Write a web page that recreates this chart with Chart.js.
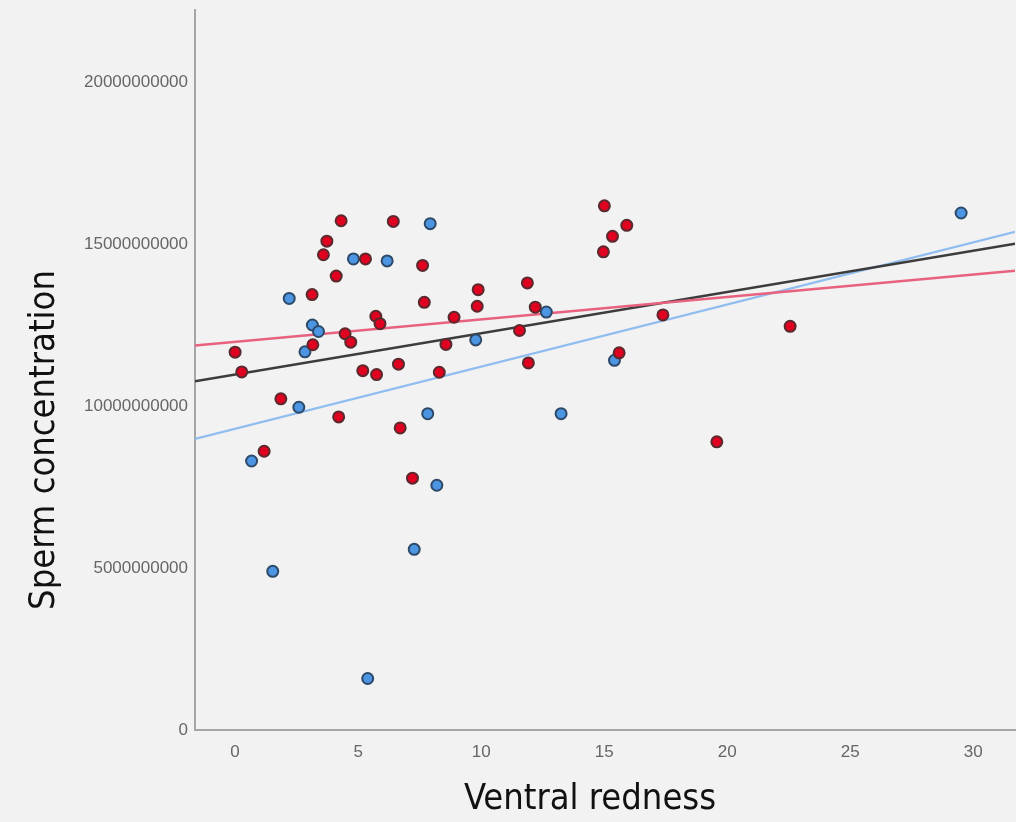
<!DOCTYPE html>
<html>
<head>
<meta charset="utf-8">
<script src="https://cdn.jsdelivr.net/npm/chart.js@4"></script>
<style>
  html, body { margin: 0; padding: 0; background: #f2f2f2; }
  #wrap { width: 1016px; height: 822px; }
</style>
</head>
<body>
<div id="wrap"><canvas id="chart" width="1016" height="822"></canvas></div>
<script>
// Red group (x = ventral redness, y = sperm concentration)
const redX = [0.0, 0.27, 1.18, 1.86, 3.13, 3.16, 3.59, 3.73, 4.31, 4.11, 4.47, 4.70, 4.21, 5.19,
  5.30, 5.72, 5.89, 5.75, 6.43, 6.64, 6.71, 7.21, 7.62, 7.69, 8.30, 8.57, 8.90, 9.84, 9.88,
  11.56, 11.88, 11.92, 12.20, 14.97, 15.01, 15.34, 15.92, 15.61, 17.39, 19.58, 22.56];
const redY = [1.167e10, 1.106e10, 8.61e9, 1.023e10, 1.345e10, 1.190e10, 1.468e10, 1.510e10,
  1.573e10, 1.402e10, 1.224e10, 1.198e10, 9.67e9, 1.110e10, 1.455e10, 1.278e10, 1.255e10,
  1.098e10, 1.571e10, 1.130e10, 9.33e9, 7.78e9, 1.435e10, 1.321e10, 1.105e10, 1.191e10,
  1.275e10, 1.309e10, 1.360e10, 1.234e10, 1.381e10, 1.134e10, 1.306e10, 1.477e10, 1.619e10,
  1.525e10, 1.559e10, 1.165e10, 1.282e10, 8.90e9, 1.247e10];

// Blue group
const blueX = [0.67, 1.53, 2.59, 2.20, 2.84, 3.14, 3.39, 4.81, 5.39, 6.18, 7.28, 7.93, 7.83,
  8.20, 9.78, 12.65, 13.25, 15.42, 29.51];
const blueY = [8.31e9, 4.90e9, 9.97e9, 1.333e10, 1.168e10, 1.251e10, 1.231e10, 1.455e10,
  1.59e9, 1.449e10, 5.58e9, 1.564e10, 9.77e9, 7.56e9, 1.205e10, 1.291e10, 9.77e9, 1.142e10,
  1.597e10];

// Fit lines, read at the two ends of the x axis
const fitX = [-1.63, 31.7];
const redFitY = [1.188e10, 1.4185e10];
const allFitY = [1.077e10, 1.5018e10];
const blueFitY = [8.99e9, 1.5386e10];

// tick labels
const xTicks = [0, 5, 10, 15, 20, 25, 30];
const yTicks = [0, 5000000000, 10000000000, 15000000000, 20000000000];

const xTitle = "Ventral redness";
const yTitle = "Sperm concentration";

const toPoints = (xs, ys) => xs.map((x, i) => ({ x: x, y: ys[i] }));

// axis titles placed like the original (not centred on the plot area)
const titlesPlugin = {
  id: "titles",
  afterDraw(chart) {
    const ctx = chart.ctx;
    ctx.save();
    ctx.fillStyle = "#111";
    ctx.font = '36px "DejaVu Sans Condensed", "DejaVu Sans", sans-serif';
    ctx.textAlign = "center";
    ctx.textBaseline = "middle";
    ctx.fillText(xTitle, 590, 800);
    ctx.translate(45, 440);
    ctx.rotate(-Math.PI / 2);
    ctx.fillText(yTitle, 0, 0);
    ctx.restore();
  },
};

const lineStyle = (color, width) => ({
  type: "line",
  borderColor: color,
  borderWidth: width,
  pointRadius: 0,
  fill: false,
  order: 2,
});

const tickFont = { family: '"Liberation Sans", Arial, sans-serif', size: 17 };

new Chart(document.getElementById("chart"), {
  type: "scatter",
  data: {
    datasets: [
      {
        label: "red",
        data: toPoints(redX, redY),
        backgroundColor: "#e00020",
        borderColor: "#5a2a2e",
        borderWidth: 2,
        pointRadius: 5.5,
        order: 0,
      },
      {
        label: "blue",
        data: toPoints(blueX, blueY),
        backgroundColor: "#4b95e3",
        borderColor: "#2e4a68",
        borderWidth: 2,
        pointRadius: 5.5,
        order: 1,
      },
      { label: "fit red", data: toPoints(fitX, redFitY), ...lineStyle("#e8617f", 2.5) },
      { label: "fit all", data: toPoints(fitX, allFitY), ...lineStyle("#3c3c3c", 2.5) },
      { label: "fit blue", data: toPoints(fitX, blueFitY), ...lineStyle("#90bdf0", 2.2) },
    ],
  },
  options: {
    responsive: false,
    animation: false,
    layout: { autoPadding: false, padding: { top: 10, right: 1, left: 0, bottom: 0 } },
    plugins: { legend: { display: false }, tooltip: { enabled: false } },
    scales: {
      x: {
        type: "linear",
        min: -1.63,
        max: 31.7,
        grid: { display: false, drawTicks: false },
        border: { color: "#a6a6a6", width: 2 },
        ticks: { padding: 12, color: "#666", font: tickFont, maxRotation: 0 },
        afterBuildTicks: (scale) => { scale.ticks = xTicks.map((v) => ({ value: v })); },
        afterFit: (scale) => {
          scale.height = 92;
          scale.paddingLeft = 0;
          scale.paddingRight = 0;
        },
      },
      y: {
        min: 0,
        max: 2.224e10,
        grid: { display: false, drawTicks: false },
        border: { color: "#a6a6a6", width: 2 },
        ticks: { padding: 7, color: "#666", font: tickFont, callback: (v) => String(v) },
        afterBuildTicks: (scale) => { scale.ticks = yTicks.map((v) => ({ value: v })); },
        afterFit: (scale) => {
          scale.width = 195;
          scale.paddingTop = 0;
          scale.paddingBottom = 0;
        },
      },
    },
  },
  plugins: [titlesPlugin],
});
</script>
</body>
</html>
